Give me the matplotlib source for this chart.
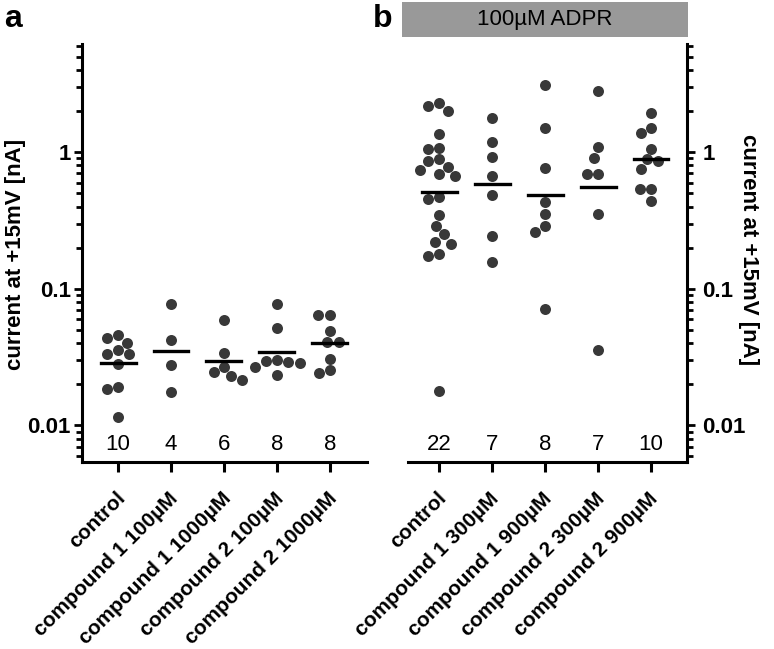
# Scatter plots (log scale) with geometric-mean bars, two panels

import numpy as np
import matplotlib
matplotlib.use('Agg')
import matplotlib.pyplot as plt
import matplotlib.transforms as mtransforms
from matplotlib.ticker import FixedLocator, LogLocator, NullFormatter
from matplotlib.patches import Rectangle

plt.rcParams['font.family'] = ['Liberation Sans', 'DejaVu Sans']

# Panel a - no ADPR
labels_a = ['control', 'compound 1 100µM', 'compound 1 1000µM',
            'compound 2 100µM', 'compound 2 1000µM']
values_a = [
    [0.0456, 0.0439, 0.0401, 0.0354, 0.0331, 0.0335, 0.0280, 0.0191, 0.0184, 0.0116],
    [0.0769, 0.0420, 0.0275, 0.0175],
    [0.0594, 0.0339, 0.0267, 0.0246, 0.0230, 0.0216],
    [0.0778, 0.0516, 0.0302, 0.0295, 0.0292, 0.0288, 0.0270, 0.0235],
    [0.0647, 0.0641, 0.0491, 0.0407, 0.0405, 0.0308, 0.0253, 0.0242],
]

# Panel b - 100µM ADPR
labels_b = ['control', 'compound 1 300µM', 'compound 1 900µM',
            'compound 2 300µM', 'compound 2 900µM']
values_b = [
    [2.30, 2.17, 2.01, 1.37, 1.08, 1.06, 0.885, 0.864, 0.780, 0.746, 0.690,
     0.667, 0.470, 0.458, 0.345, 0.287, 0.250, 0.220, 0.214, 0.181, 0.174, 0.0180],
    [1.79, 1.18, 0.924, 0.670, 0.484, 0.244, 0.156],
    [3.10, 1.51, 0.773, 0.432, 0.351, 0.287, 0.261, 0.0716],
    [2.81, 1.09, 0.908, 0.698, 0.690, 0.351, 0.0354],
    [1.94, 1.51, 1.39, 1.06, 0.885, 0.864, 0.751, 0.542, 0.536, 0.440],
]

W, H = 774, 649
DOT = '#383838'
DIAM = 11.0   # marker diameter in pixels
GAP = 11.5    # min centre distance used for the swarm
FS = 16


def swarm(ax, x0, vals):
    # place points side by side so they do not overlap (pixel space)
    order = np.argsort(vals)[::-1]
    placed = []
    xs = np.zeros(len(vals))
    for i in order:
        py = ax.transData.transform((x0, vals[i]))[1]
        blocked = []
        for px, qy in placed:
            dy = abs(py - qy)
            if dy < GAP:
                dx = np.sqrt(GAP ** 2 - dy ** 2)
                blocked.append((px - dx, px + dx))
        cands = [0.0] + [b for iv in blocked for b in iv]
        cands = sorted(cands, key=abs)
        for c in cands:
            if all(not (lo + 1e-6 < c < hi - 1e-6) for lo, hi in blocked):
                best = c
                break
        placed.append((best, py))
        xs[i] = best
    px0 = ax.transData.transform((x0, 1))[0]
    return [ax.transData.inverted().transform((px0 + dx, 1))[0] for dx in xs]


def panel(ax, labels, values, side):
    ax.set_yscale('log')
    ax.set_ylim(0.0054, 6.2)
    ax.set_xlim(-0.68 if side == 'left' else -0.59, 4.70 if side == 'left' else 4.68)
    ax.yaxis.set_major_locator(FixedLocator([0.01, 0.1, 1]))
    ax.set_yticklabels(['0.01', '0.1', '1'])
    ax.yaxis.set_minor_locator(LogLocator(base=10, subs=np.arange(2, 10)))
    ax.yaxis.set_minor_formatter(NullFormatter())
    for s in ['top', 'right', 'left']:
        ax.spines[s].set_visible(False)
    ax.spines[side].set_visible(True)
    for s in ax.spines.values():
        s.set_linewidth(2.2)
    if side == 'right':
        ax.yaxis.tick_right()
    ax.tick_params(axis='y', which='major', length=6, width=2, labelsize=FS,
                   pad=2 if side == 'left' else 5)
    ax.tick_params(axis='y', which='minor', length=4, width=2)
    ax.tick_params(axis='x', length=7, width=2.2)
    for lab in ax.get_yticklabels():
        lab.set_fontweight('bold')
    ax.set_xticks(range(len(labels)))
    ax.set_xticklabels(labels, rotation=45, ha='right', va='center',
                       rotation_mode='anchor', fontsize=15, fontweight='bold')
    shift = mtransforms.ScaledTranslation(4 / 100, 0, ax.figure.dpi_scale_trans)
    for lab in ax.get_xticklabels():
        lab.set_y(-0.045)
        lab.set_transform(lab.get_transform() + shift)

    for i, vals in enumerate(values):
        vals = np.array(vals)
        xs = swarm(ax, i, vals)
        ax.scatter(xs, vals, s=(DIAM * 0.72) ** 2, color=DOT, lw=0, zorder=3)
        gm = np.exp(np.mean(np.log(vals)))
        ax.plot([i - 0.33, i + 0.33], [gm, gm], color='black', lw=2.4, zorder=4)
        ax.text(i, 0.041, str(len(vals)), transform=ax.get_xaxis_transform(),
                ha='center', va='center', fontsize=FS)


fig = plt.figure(figsize=(W / 100, H / 100), dpi=100)
ax_a = fig.add_axes([82 / W, 1 - 462 / H, 285 / W, 418 / H])
ax_b = fig.add_axes([408 / W, 1 - 462 / H, 279 / W, 418 / H])
fig.canvas.draw()

panel(ax_a, labels_a, values_a, 'left')
panel(ax_b, labels_b, values_b, 'right')

fig.text(16 / W, 1 - 254 / H, 'current at +15mV [nA]', rotation=90,
         ha='center', va='center', fontsize=FS, fontweight='bold')
fig.text(749 / W, 1 - 250 / H, 'current at +15mV [nA]', rotation=-90,
         ha='center', va='center', fontsize=FS, fontweight='bold')

# banner over panel b
fig.patches.append(Rectangle((402 / W, 1 - 37 / H), 286 / W, 35 / H,
                             transform=fig.transFigure, color='#999999', lw=0))
fig.text(545 / W, 1 - 20 / H, '100µM ADPR', ha='center', va='center', fontsize=FS)

fig.text(4 / W, 1 - 19 / H, 'a', ha='left', va='center', fontsize=23, fontweight='bold')
fig.text(373 / W, 1 - 19 / H, 'b', ha='left', va='center', fontsize=23, fontweight='bold')

plt.savefig('out.png', dpi=100)
